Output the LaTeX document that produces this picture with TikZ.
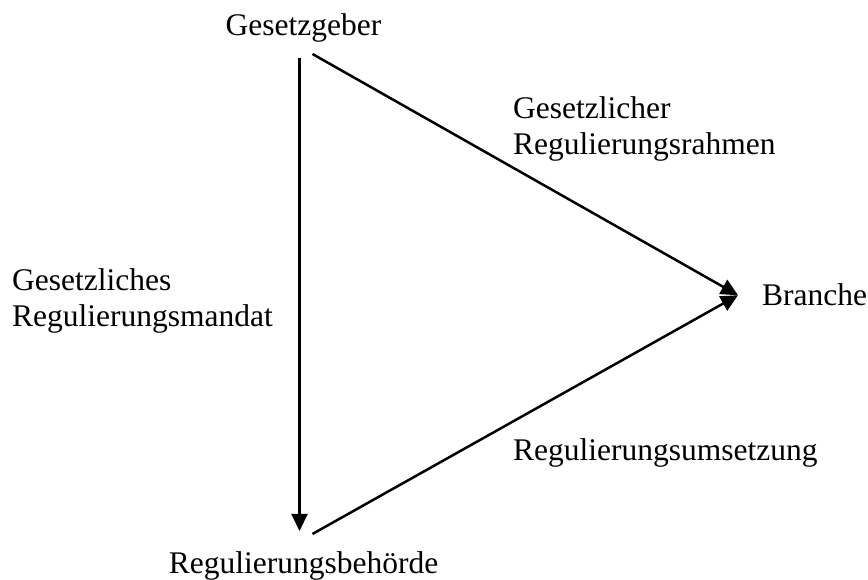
\documentclass[tikz,border=0pt]{standalone}
\usepackage{fontspec}
\setmainfont{Liberation Serif}
\usepackage{tikz}
\usetikzlibrary{
    arrows.meta,
    calc,
    positioning
}

\begin{document}
\begin{tikzpicture}[x=1pt, y=-1pt,
    txt/.style={inner sep=0pt, font=\fontsize{31.5}{36}\selectfont},
    pfeil/.style={line width=2.5pt, -{Triangle[length=17pt, width=16pt]}}]
    \useasboundingbox (0, 0) rectangle (868, 579);
    \node[txt, anchor=base] (gesetzgeber) at (303.5, 35) {Gesetzgeber};
    \node[txt, anchor=base] (behoerde) at (303.5, 573) {Regulierungsbehörde};
    \node[txt, anchor=base west] (branche) at (762, 305) {Branche};
    \coordinate (ziel) at ($(branche.west) + (-24, 1)$);
    \draw[pfeil] ($(gesetzgeber.south) + (-4, 16)$) -- ($(behoerde.north) + (-4, -20)$);
    \draw[pfeil] ($(gesetzgeber.south) + (9, 12)$) -- (ziel);
    \draw[pfeil] ($(behoerde.north) + (9, -17)$) -- (ziel);
    \node[txt, anchor=north west, align=left] (rahmen) at (513, 96) {Gesetzlicher\\Regulierungsrahmen};
    \node[txt, anchor=north west, align=left] (mandat) at (12, 268) {Gesetzliches\\Regulierungsmandat};
    \node[txt, anchor=base west] (umsetzung) at (513, 460) {Regulierungsumsetzung};
\end{tikzpicture}
\end{document}
